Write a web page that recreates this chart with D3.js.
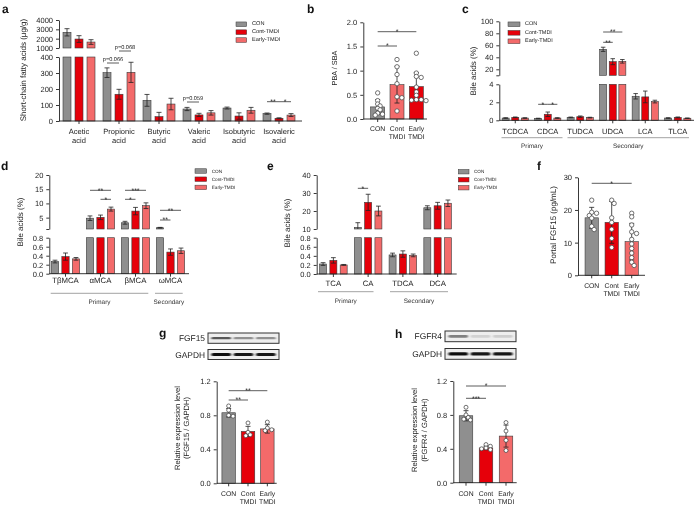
<!DOCTYPE html>
<html><head><meta charset="utf-8">
<script src="https://cdn.jsdelivr.net/npm/d3@7"></script>
<style>
body{margin:0;background:#fff}
svg{display:block;will-change:transform}
text{font-family:"Liberation Sans",Arial,Helvetica,sans-serif;text-rendering:geometricPrecision}
</style>
</head><body>
<svg id="fig" width="696" height="505"></svg>
<script>
// ---------------- DATA ----------------
const seriesNames = ["CON", "Cont-TMDI", "Early-TMDI"];
const groupLabels = ["CON", "Cont TMDI", "Early TMDI"];

// a: short-chain fatty acids (ug/g)
const scfaCategories = ["Acetic acid", "Propionic acid", "Butyric acid", "Valeric acid", "Isobutyric acid", "Isovaleric acid"];
const scfaCON = [2680, 302, 129, 75, 81, 46];
const scfaCONsd = [390, 30, 37, 10, 6, 4];
const scfaCont = [1960, 167, 27, 38, 31, 17];
const scfaContSd = [360, 31, 27, 10, 20, 3];
const scfaEarly = [1640, 304, 106, 51, 67, 37];
const scfaEarlySd = [250, 63, 36, 14, 18, 9];
const scfaTicksLow = [0, 100, 200, 300, 400];
const scfaTicksHigh = [1000, 2000, 3000, 4000];

// b: PBA / SBA
const pbaMeans = [0.25, 0.71, 0.67];
const pbaSd = [0.15, 0.38, 0.29];
const pbaCONpts = [0.54, 0.38, 0.31, 0.27, 0.22, 0.19, 0.12, 0.10, 0.08];
const pbaContPts = [1.23, 1.08, 0.92, 0.73, 0.46, 0.44, 0.165];
const pbaEarlyPts = [1.36, 0.95, 0.88, 0.86, 0.66, 0.56, 0.49, 0.40, 0.39, 0.38, 0.40];
const pbaTicks = [0, 0.5, 1.0, 1.5, 2.0];

// c: bile acids (%)
const baCCategories = ["TCDCA", "CDCA", "TUDCA", "UDCA", "LCA", "TLCA"];
const baCCON = [0.25, 0.20, 0.32, 53.3, 2.67, 0.25];
const baCCONsd = [0.03, 0.03, 0.04, 3.5, 0.3, 0.03];
const baCCont = [0.33, 0.67, 0.40, 32.7, 2.6, 0.32];
const baCContSd = [0.04, 0.25, 0.08, 5, 0.65, 0.05];
const baCEarly = [0.25, 0.25, 0.30, 33.3, 2.08, 0.23];
const baCEarlySd = [0.03, 0.04, 0.04, 3, 0.15, 0.03];
const baCTicksLow = [0, 2, 4];
const baCTicksHigh = [10, 20, 40, 60, 80, 100];

// d: muricholic acids (%)
const baDCategories = ["TβMCA", "αMCA", "βMCA", "ωMCA"];
const baDCON = [0.27, 4.8, 3.2, 1.45];
const baDCONsd = [0.03, 0.8, 0.5, 0.12];
const baDCont = [0.38, 5.1, 7.3, 0.48];
const baDContSd = [0.08, 0.8, 1.3, 0.07];
const baDEarly = [0.33, 8.0, 9.2, 0.51];
const baDEarlySd = [0.03, 0.7, 1.0, 0.06];
const baDTicksLow = [0, 0.2, 0.4, 0.6, 0.8];
const baDTicksHigh = [1, 5, 10, 15, 20];

// e: cholic acids (%)
const baECategories = ["TCA", "CA", "TDCA", "DCA"];
const baECON = [0.22, 10.9, 0.42, 21.8];
const baECONsd = [0.03, 2.6, 0.04, 1.1];
const baECont = [0.30, 24.8, 0.44, 22.9];
const baEContSd = [0.06, 4.5, 0.07, 1.9];
const baEEarly = [0.20, 20.0, 0.41, 24.3];
const baEEarlySd = [0.01, 2.7, 0.03, 1.8];
const baETicksLow = [0, 0.2, 0.4, 0.6, 0.8];
const baETicksHigh = [10, 20, 30, 40];

// f: portal FGF15 (pg/mL)
const fgfMeans = [17.6, 16.2, 10.3];
const fgfSd = [3.2, 6.4, 5.6];
const fgfCONpts = [23.0, 19.3, 19.0, 18.3, 17.5, 15.0, 14.0];
const fgfContPts = [23.0, 22.0, 17.6, 16.2, 14.1, 11.3, 8.5];
const fgfEarlyPts = [19.0, 17.9, 15.4, 13.3, 12.8, 11.0, 9.6, 8.2, 6.8, 5.4, 4.0, 3.0];
const fgfTicks = [0, 10, 20, 30];

// g: FGF15 / GAPDH
const gMeans = [0.83, 0.61, 0.64];
const gSd = [0.05, 0.06, 0.05];
const gCONpts = [0.91, 0.86, 0.80, 0.79];
const gContPts = [0.71, 0.60, 0.57, 0.56];
const gEarlyPts = [0.72, 0.65, 0.62, 0.63];
// h: FGFR4 / GAPDH
const hMeans = [0.79, 0.41, 0.55];
const hSd = [0.06, 0.02, 0.13];
const hCONpts = [0.89, 0.80, 0.77, 0.75, 0.74];
const hContPts = [0.45, 0.43, 0.41, 0.40, 0.39];
const hEarlyPts = [0.71, 0.61, 0.50, 0.38];
const exprTicks = [0.0, 0.4, 0.8, 1.2];

// western blot band intensities (0..1) per lane
const blotFGF15 = [0.72, 0.52, 0.52];
const blotGAPDHg = [0.95, 0.92, 0.92];
const blotFGFR4 = [0.58, 0.28, 0.30];
const blotGAPDHh = [0.95, 0.92, 0.92];

// ---------------- STYLE ----------------
const ink = "#222";
const gray = "#8f8f8f", red = "#e6000a", light = "#f36a6a";
const colors3 = [gray, red, light];
const colorsB = [gray, light, red];
const barStroke = "#3a3a3a";

const svg = d3.select("#fig");
svg.append("rect").attr("width", 696).attr("height", 505).attr("fill", "#fff");
const defs = svg.append("defs");
defs.append("filter").attr("id", "blur").attr("x", "-30%").attr("y", "-100%").attr("width", "160%").attr("height", "300%")
  .append("feGaussianBlur").attr("stdDeviation", "0.9 0.6");

function txt(g, x, y, s, size, o = {}) {
  const t = g.append("text").attr("x", x).attr("y", y).text(s)
    .attr("font-size", size).attr("fill", o.fill || ink).style("fill", o.fill || ink);
  if (o.anchor) t.attr("text-anchor", o.anchor);
  if (o.weight) t.attr("font-weight", o.weight);
  if (o.baseline) t.attr("dominant-baseline", o.baseline);
  if (o.rotate) t.attr("transform", `rotate(-90 ${x} ${y})`);
  return t;
}
function styleAxis(a, size) {
  a.selectAll("path.domain").attr("stroke", ink).attr("stroke-width", 0.9);
  a.selectAll(".tick line").attr("stroke", ink).attr("stroke-width", 0.9);
  a.selectAll(".tick text").attr("font-size", size).attr("fill", ink).style("fill", ink)
    .attr("font-family", '"Liberation Sans",Arial,sans-serif');
}
function errorBar(g, cx, yLo, yHi, cap, lowCap) {
  g.append("line").attr("x1", cx).attr("x2", cx).attr("y1", yLo).attr("y2", yHi)
    .attr("stroke", ink).attr("stroke-width", 0.8);
  g.append("line").attr("x1", cx - cap / 2).attr("x2", cx + cap / 2).attr("y1", yHi).attr("y2", yHi)
    .attr("stroke", ink).attr("stroke-width", 0.8);
  if (lowCap) g.append("line").attr("x1", cx - cap / 2).attr("x2", cx + cap / 2).attr("y1", yLo).attr("y2", yLo)
    .attr("stroke", ink).attr("stroke-width", 0.8);
}
function sig(g, x1, x2, y, label, size) {
  g.append("line").attr("x1", x1).attr("x2", x2).attr("y1", y).attr("y2", y)
    .attr("stroke", "#333").attr("stroke-width", 0.8);
  if (label.startsWith("p")) txt(g, (x1 + x2) / 2, y - 2.2, label, size || 5.6, { anchor: "middle" });
  else txt(g, (x1 + x2) / 2, y + 2.2, label, size || 7, { anchor: "middle" });
}
function legend(g, x, y0, dy, w, h, size, tx, cols) {
  seriesNames.forEach((n, i) => {
    g.append("rect").attr("x", x).attr("y", y0 + i * dy - h / 2).attr("width", w).attr("height", h)
      .attr("fill", cols[i]).attr("stroke", barStroke).attr("stroke-width", 0.5);
    txt(g, tx, y0 + i * dy, n, size, { baseline: "central" });
  });
}
function panelLetter(x, y, s) { txt(svg, x, y, s, 12, { weight: "bold", fill: "#111" }); }

// ---------------- GROUPED (broken axis) PANEL ----------------
function groupedPanel(cfg) {
  const g = svg.append("g");
  const x = d3.scaleBand().domain(cfg.categories).range(cfg.xRange);
  const inner = d3.scaleBand().domain(seriesNames).range([-1.5 * cfg.step, 1.5 * cfg.step]);
  const gc = cat => x(cat) + x.bandwidth() / 2;
  const cx = (cat, j) => gc(cat) + inner(seriesNames[j]) + inner.bandwidth() / 2;
  const segs = cfg.segments.map(s => Object.assign({}, s, { scale: d3.scaleLinear().domain(s.domain).range(s.range) }));
  const base = segs[0].scale(0);

  cfg.categories.forEach((cat, i) => {
    cfg.means.forEach((m, j) => {
      const v = m[i], sd = cfg.sds[j][i];
      let k = 0;
      segs.forEach((s, idx) => { if (idx > 0 && v > s.domain[0]) k = idx; });
      const bx = cx(cat, j) - cfg.barW / 2;
      for (let idx = 0; idx <= k; idx++) {
        const s = segs[idx];
        const lo = idx === 0 ? 0 : s.domain[0];
        const hi = idx === k ? v : s.domain[1];
        g.append("rect").attr("x", bx).attr("width", cfg.barW)
          .attr("y", s.scale(hi)).attr("height", s.scale(lo) - s.scale(hi))
          .attr("fill", cfg.colors[j]).attr("stroke", barStroke).attr("stroke-width", 0.6);
      }
      const s = segs[k];
      const floor = k === 0 ? 0 : s.domain[0];
      const e0 = Math.max(v - sd, floor), e1 = Math.min(v + sd, s.domain[1]);
      errorBar(g, cx(cat, j), s.scale(e0), s.scale(e1), cfg.cap, v - sd > floor);
    });
  });

  segs.forEach(s => {
    const ax = d3.axisLeft(s.scale).tickValues(s.ticks).tickSize(3).tickSizeOuter(0)
      .tickFormat(v => (s.hide || []).includes(v) ? "" : s.fmt(v));
    styleAxis(g.append("g").attr("transform", `translate(${cfg.axisX},0)`).call(ax), cfg.tickFont);
  });
  // x axis
  g.append("line").attr("x1", cfg.axisX).attr("x2", cfg.xEnd).attr("y1", base).attr("y2", base)
    .attr("stroke", ink).attr("stroke-width", 0.9);
  cfg.categories.forEach(cat => {
    g.append("line").attr("x1", gc(cat)).attr("x2", gc(cat)).attr("y1", base).attr("y2", base + 3)
      .attr("stroke", ink).attr("stroke-width", 0.9);
    const parts = cfg.splitLabels ? cat.split(" ") : [cat];
    parts.forEach((p, li) => txt(g, gc(cat), cfg.labelY + li * cfg.labelLH, p, cfg.labelFont, { anchor: "middle" }));
  });
  // sub-group brackets
  (cfg.brackets || []).forEach(b => {
    const x1 = x(b.from) + b.padL, x2 = x(b.to) + x.bandwidth() - b.padR;
    g.append("line").attr("x1", x1).attr("x2", x2).attr("y1", cfg.bracketY).attr("y2", cfg.bracketY)
      .attr("stroke", "#8a8a8a").attr("stroke-width", 0.8);
    txt(g, (x1 + x2) / 2, cfg.bracketTextY, b.label, 6.4, { anchor: "middle", fill: "#333" });
  });
  (cfg.sigs || []).forEach(s => sig(g, cx(s.cat, s.a), cx(s.cat, s.b), s.y, s.label));
  txt(g, cfg.titleX, cfg.titleY, cfg.title, cfg.titleFont || 8, { anchor: "middle", baseline: "central", rotate: true });
  return g;
}

// ---------------- DOT + BAR PANEL ----------------
function swarm(vals, y, r, cx, spread) {
  const pts = vals.map(v => ({ v, py: y(v) })).sort((a, b) => a.py - b.py);
  const placed = [];
  const step = r * 1.1;
  pts.forEach(p => {
    const offs = [0];
    for (let k = 1; k < 8; k++) offs.push(k * step, -k * step);
    for (const o of offs) {
      const px = cx + o;
      if (placed.every(q => Math.hypot(q.px - px, q.py - p.py) >= 2 * r * spread)) { p.px = px; break; }
    }
    if (p.px === undefined) p.px = cx;
    placed.push(p);
  });
  return placed;
}
function dotPanel(cfg) {
  const g = svg.append("g");
  const x = d3.scaleBand().domain(groupLabels).range(cfg.xRange);
  const y = d3.scaleLinear().domain(cfg.yDomain).range(cfg.yRange);
  const cxOf = i => x(groupLabels[i]) + x.bandwidth() / 2;
  groupLabels.forEach((lab, i) => {
    const c = cxOf(i), m = cfg.means[i], sd = cfg.sds[i];
    g.append("rect").attr("x", c - cfg.barW / 2).attr("width", cfg.barW)
      .attr("y", y(m)).attr("height", y(0) - y(m))
      .attr("fill", cfg.colors[i]).attr("stroke", barStroke).attr("stroke-width", 0.6);
    errorBar(g, c, y(Math.max(0, m - sd)), y(m + sd), cfg.cap, true);
    swarm(cfg.points[i], y, cfg.r, c, cfg.spread || 0.8).forEach(p => {
      g.append("circle").attr("cx", p.px).attr("cy", p.py).attr("r", cfg.r)
        .attr("fill", "#fff").attr("stroke", "#444").attr("stroke-width", 0.75);
    });
  });
  const ax = d3.axisLeft(y).tickValues(cfg.ticks).tickSize(3).tickSizeOuter(0).tickFormat(d3.format(cfg.fmt));
  styleAxis(g.append("g").attr("transform", `translate(${cfg.axisX},0)`).call(ax), 7.5);
  const base = y(0);
  g.append("line").attr("x1", cfg.axisX).attr("x2", cfg.xEnd).attr("y1", base).attr("y2", base)
    .attr("stroke", ink).attr("stroke-width", 0.9);
  groupLabels.forEach((lab, i) => {
    const c = cxOf(i);
    g.append("line").attr("x1", c).attr("x2", c).attr("y1", base).attr("y2", base + 3)
      .attr("stroke", ink).attr("stroke-width", 0.9);
    lab.split(" ").forEach((p, li) => txt(g, c, cfg.labelY + li * 8.4, p, 6.8, { anchor: "middle" }));
  });
  (cfg.sigs || []).forEach(s => sig(g, cxOf(s.a), cxOf(s.b), s.y, s.label));
  cfg.title.forEach((t, li) => txt(g, cfg.titleX[li], cfg.titleY, t, cfg.titleFont, { anchor: "middle", baseline: "central", rotate: true }));
  return g;
}

// ---------------- WESTERN BLOT ----------------
function blot(x, y, w, h, intens, label, bandH) {
  const g = svg.append("g");
  g.append("rect").attr("x", x).attr("y", y).attr("width", w).attr("height", h)
    .attr("fill", "#eeeeee").attr("stroke", "#333").attr("stroke-width", 1);
  const lane = d3.scaleBand().domain(d3.range(intens.length)).range([x, x + w]).paddingInner(0.12).paddingOuter(0.15);
  intens.forEach((t, i) => {
    g.append("rect").attr("x", lane(i)).attr("y", y + h / 2 - bandH / 2).attr("width", lane.bandwidth())
      .attr("height", bandH).attr("rx", bandH / 2)
      .attr("fill", d3.interpolateGreys(t)).attr("filter", "url(#blur)");
  });
  txt(g, x - 3, y + h / 2, label, 8.4, { anchor: "end", baseline: "central" });
}

// ---------------- PANELS ----------------
// a
const ga = groupedPanel({
  categories: scfaCategories,
  means: [scfaCON, scfaCont, scfaEarly], sds: [scfaCONsd, scfaContSd, scfaEarlySd],
  colors: colors3, xRange: [59, 299], step: 12, barW: 8, cap: 5,
  axisX: 59, xEnd: 302, tickFont: 7.5,
  segments: [
    { domain: [0, 400], range: [121, 57], ticks: scfaTicksLow, fmt: d3.format("d") },
    { domain: [1000, 4000], range: [48, 20], ticks: scfaTicksHigh, fmt: d3.format("d") }
  ],
  splitLabels: true, labelY: 133.5, labelLH: 9, labelFont: 7.5,
  sigs: [
    { cat: "Propionic acid", a: 0, b: 1, y: 63, label: "p=0.066" },
    { cat: "Propionic acid", a: 1, b: 2, y: 51, label: "p=0.068" },
    { cat: "Valeric acid", a: 0, b: 1, y: 102, label: "p=0.059" },
    { cat: "Isovaleric acid", a: 0, b: 1, y: 101.7, label: "**" },
    { cat: "Isovaleric acid", a: 1, b: 2, y: 101.7, label: "*" }
  ],
  title: "Short-chain fatty acids (μg/g)", titleX: 23, titleY: 70, titleFont: 8
});
legend(ga, 236, 24.3, 7.9, 10.7, 4.7, 5.6, 252, colors3);
panelLetter(2, 13, "a");

// b
dotPanel({
  means: pbaMeans, sds: pbaSd, points: [pbaCONpts, pbaContPts, pbaEarlyPts], colors: colorsB,
  xRange: [368, 426], barW: 14, cap: 5, r: 2.2, spread: 0.62,
  yDomain: [0, 2], yRange: [119, 22.3], ticks: pbaTicks, fmt: ".1f",
  axisX: 363.3, xEnd: 427, labelY: 130.5,
  sigs: [{ a: 0, b: 1, y: 46, label: "*" }, { a: 0, b: 2, y: 31.7, label: "*" }],
  title: ["PBA / SBA"], titleX: [334], titleY: 68, titleFont: 7.3
});
panelLetter(307, 13, "b");

// c
const gcP = groupedPanel({
  categories: baCCategories,
  means: [baCCON, baCCont, baCEarly], sds: [baCCONsd, baCContSd, baCEarlySd],
  colors: colors3, xRange: [499, 694], step: 9.6, barW: 7, cap: 4.5,
  axisX: 499.3, xEnd: 694, tickFont: 7.5,
  segments: [
    { domain: [0, 4], range: [120.3, 84.3], ticks: baCTicksLow, fmt: d3.format("d") },
    { domain: [10, 100], range: [75.3, 21.3], ticks: baCTicksHigh, fmt: d3.format("d"), hide: [10] }
  ],
  labelY: 133.6, labelLH: 9, labelFont: 7.5,
  brackets: [
    { label: "Primary", from: "TCDCA", to: "CDCA", padL: 2.5, padR: 1.5 },
    { label: "Secondary", from: "TUDCA", to: "TLCA", padL: 3.5, padR: 5 }
  ],
  bracketY: 137.7, bracketTextY: 148.3,
  sigs: [
    { cat: "CDCA", a: 0, b: 1, y: 104.3, label: "*" },
    { cat: "CDCA", a: 1, b: 2, y: 104.3, label: "*" },
    { cat: "UDCA", a: 0, b: 1, y: 42.3, label: "**" },
    { cat: "UDCA", a: 0, b: 2, y: 32, label: "**" }
  ],
  title: "Bile acids (%)", titleX: 473.5, titleY: 71, titleFont: 8
});
legend(gcP, 508, 24.3, 8.5, 12, 4.7, 5.5, 525, colors3);
panelLetter(462, 13, "c");

// d
const gd = groupedPanel({
  categories: baDCategories,
  means: [baDCON, baDCont, baDEarly], sds: [baDCONsd, baDContSd, baDEarlySd],
  colors: colors3, xRange: [48, 188], step: 10.5, barW: 7.3, cap: 4.8,
  axisX: 49.3, xEnd: 189, tickFont: 7.5,
  segments: [
    { domain: [0, 0.8], range: [273.7, 237.7], ticks: baDTicksLow, fmt: d3.format(".1f") },
    { domain: [1, 20], range: [229, 175], ticks: baDTicksHigh, fmt: d3.format("d"), hide: [1] }
  ],
  labelY: 283, labelLH: 9, labelFont: 7.8,
  brackets: [
    { label: "Primary", from: "TβMCA", to: "βMCA", padL: 2.7, padR: 4.7 },
    { label: "Secondary", from: "ωMCA", to: "ωMCA", padL: 2, padR: 5.3 }
  ],
  bracketY: 293.3, bracketTextY: 304,
  sigs: [
    { cat: "αMCA", a: 0, b: 2, y: 190.3, label: "**" },
    { cat: "αMCA", a: 1, b: 2, y: 199.3, label: "*" },
    { cat: "βMCA", a: 0, b: 2, y: 190.3, label: "***" },
    { cat: "βMCA", a: 0, b: 1, y: 199.3, label: "*" },
    { cat: "ωMCA", a: 0, b: 2, y: 210.3, label: "**" },
    { cat: "ωMCA", a: 0, b: 1, y: 220, label: "**" }
  ],
  title: "Bile acids (%)", titleX: 20, titleY: 222, titleFont: 8
});
legend(gd, 195, 171, 8.2, 11.7, 4.5, 4.7, 211.7, colors3);
panelLetter(1, 170, "d");

// e
const ge = groupedPanel({
  categories: baECategories,
  means: [baECON, baECont, baEEarly], sds: [baECONsd, baEContSd, baEEarlySd],
  colors: colors3, xRange: [316, 455], step: 10.3, barW: 7, cap: 4.8,
  axisX: 316.7, xEnd: 456.7, tickFont: 7.5,
  segments: [
    { domain: [0, 0.8], range: [274, 237.7], ticks: baETicksLow, fmt: d3.format(".1f") },
    { domain: [10, 40], range: [229, 175], ticks: baETicksHigh, fmt: d3.format("d") }
  ],
  labelY: 286.3, labelLH: 9, labelFont: 7.8,
  brackets: [
    { label: "Primary", from: "TCA", to: "CA", padL: 2, padR: 12 },
    { label: "Secondary", from: "TDCA", to: "DCA", padL: 4.5, padR: 7 }
  ],
  bracketY: 291.7, bracketTextY: 302.5,
  sigs: [{ cat: "CA", a: 0, b: 1, y: 188.3, label: "*" }],
  title: "Bile acids (%)", titleX: 287, titleY: 223, titleFont: 8
});
legend(ge, 458.3, 171.7, 8, 10.7, 4.5, 4.6, 474, colors3);
panelLetter(267, 170, "e");

// f
dotPanel({
  means: fgfMeans, sds: fgfSd, points: [fgfCONpts, fgfContPts, fgfEarlyPts], colors: colors3,
  xRange: [581.7, 641.7], barW: 13.3, cap: 5, r: 2.2, spread: 0.8,
  yDomain: [0, 30], yRange: [275.3, 177.3], ticks: fgfTicks, fmt: "d",
  axisX: 578, xEnd: 645, labelY: 288,
  sigs: [{ a: 0, b: 2, y: 183.3, label: "*" }],
  title: ["Portal FGF15 (pg/mL)"], titleX: [553.5], titleY: 225, titleFont: 8
});
panelLetter(537, 170, "f");

// g
blot(208, 333, 71, 10.3, blotFGF15, "FGF15", 2.4);
blot(208, 349.5, 71, 10, blotGAPDHg, "GAPDH", 3.2);
dotPanel({
  means: gMeans, sds: gSd, points: [gCONpts, gContPts, gEarlyPts], colors: colors3,
  xRange: [219, 277], barW: 13.5, cap: 5, r: 2, spread: 0.8,
  yDomain: [0, 1.2], yRange: [483.3, 381.3], ticks: exprTicks, fmt: ".1f",
  axisX: 216.7, xEnd: 276.7, labelY: 496,
  sigs: [{ a: 0, b: 1, y: 400, label: "**" }, { a: 0, b: 2, y: 390.7, label: "**" }],
  title: ["Relative expression level", "(FGF15 / GAPDH)"], titleX: [177.5, 186.5], titleY: 428, titleFont: 7.6
});
panelLetter(159, 337, "g");

// h
blot(445, 331, 71, 10.7, blotFGFR4, "FGFR4", 2.6);
blot(445, 348.5, 71, 10.8, blotGAPDHh, "GAPDH", 3.2);
dotPanel({
  means: hMeans, sds: hSd, points: [hCONpts, hContPts, hEarlyPts], colors: colors3,
  xRange: [456, 516], barW: 13.5, cap: 5, r: 2, spread: 0.8,
  yDomain: [0, 1.2], yRange: [482.7, 381], ticks: exprTicks, fmt: ".1f",
  axisX: 453.3, xEnd: 516.7, labelY: 495.5,
  sigs: [{ a: 0, b: 1, y: 398.3, label: "***" }, { a: 0, b: 2, y: 386, label: "*" }],
  title: ["Relative expression level", "(FGFR4 / GAPDH)"], titleX: [414.5, 424], titleY: 430, titleFont: 7.6
});
panelLetter(395, 338, "h");
</script>
</body></html>
